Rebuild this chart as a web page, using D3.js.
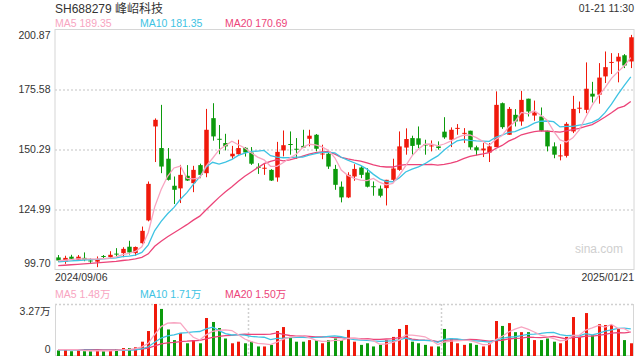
<!DOCTYPE html>
<html><head><meta charset="utf-8">
<script src="https://cdn.jsdelivr.net/npm/d3@7"></script>
<style>
html,body{margin:0;padding:0;background:#fff;}
svg{display:block;font-family:"Liberation Sans",Arial,"Noto Sans CJK SC",sans-serif;}
</style></head><body>
<svg id="c" width="640" height="360"></svg>
<script>
const title = "SH688279 峰岹科技";
const timeLabel = "01-21 11:30";
const dateLabels = ["2024/09/06", "2025/01/21"];
const priceTicks = [99.70, 124.99, 150.29, 175.58, 200.87];
const volMaxLabel = "3.27万";
const maLegend = [["MA5", "189.35"], ["MA10", "181.35"], ["MA20", "170.69"]];
const volLegend = [["MA5", "1.48万"], ["MA10", "1.71万"], ["MA20", "1.50万"]];

const open = [104.8,103.0,105.1,103.8,104.6,103.5,103.0,105.4,104.9,106.4,106.6,109.3,106.6,110.8,120.4,160.0,150.9,146.4,135.0,133.9,139.2,136.1,143.7,140.3,163.5,154.8,153.0,147.4,148.3,151.0,149.0,143.0,142.4,141.7,138.5,149.9,152.6,150.6,151.8,154.8,156.5,148.5,148.5,142.1,134.6,130.1,138.9,142.7,140.6,134.8,133.8,134.0,137.5,141.7,151.1,155.1,155.0,152.4,151.8,151.6,157.8,154.4,159.2,157.1,158.2,151.2,149.9,149.0,151.3,169.8,156.5,164.9,162.1,171.7,164.6,164.2,158.2,151.6,147.5,147.6,157.9,167.6,167.0,173.8,173.4,181.1,187.0,187.4,190.0,187.4];
const high = [105.8,105.5,105.9,105.8,106.9,104.4,105.2,105.8,107.4,108.7,109.1,111.8,109.4,117.8,136.8,163.4,169.1,150.9,138.9,143.8,143.7,143.4,144.3,167.4,169.8,160.6,156.9,151.8,154.4,151.3,151.3,144.5,144.1,142.0,153.5,158.3,157.9,155.1,158.6,158.6,156.8,152.3,148.8,143.8,136.8,140.7,144.1,143.4,142.4,136.8,135.1,137.5,146.4,157.9,159.2,156.1,160.0,154.4,154.1,153.7,163.9,159.6,161.0,159.3,158.2,151.9,153.0,153.0,174.8,170.1,168.2,167.3,175.0,171.7,170.9,168.0,158.2,153.3,152.5,161.8,172.9,170.5,187.0,178.8,186.7,191.6,190.9,190.9,190.5,198.6];
const low = [103.0,102.1,103.8,103.4,103.2,102.0,100.7,104.5,104.2,105.2,104.9,106.0,105.5,110.5,120.0,145.0,140.3,137.2,127.3,127.7,137.0,132.3,138.2,138.6,154.0,148.3,149.9,146.4,148.1,147.3,143.8,140.0,139.6,137.0,136.7,147.4,148.1,146.4,150.9,151.6,149.5,146.2,142.1,133.3,128.0,129.8,137.1,138.2,134.3,130.8,130.1,126.7,136.4,141.3,148.1,148.1,150.9,148.1,149.5,150.2,154.8,151.3,156.5,153.0,150.2,147.8,147.1,145.0,151.3,159.0,156.5,160.0,160.3,164.2,162.4,157.9,149.5,146.6,145.7,146.9,157.2,165.6,165.6,170.1,169.6,178.3,182.1,178.6,184.6,184.6];
const close = [103.5,104.6,104.2,105.1,103.8,103.3,104.2,105.2,105.9,106.2,108.4,106.9,109.2,116.0,135.8,162.8,143.1,137.5,133.3,139.6,137.2,141.7,139.6,158.6,155.8,154.6,151.6,148.5,150.9,149.0,144.3,142.8,142.6,137.2,149.3,152.1,152.5,150.5,151.1,156.1,150.6,148.6,143.1,135.4,130.1,139.6,142.1,139.6,134.6,134.7,130.8,137.5,142.3,151.6,154.7,151.8,152.3,152.2,152.0,150.9,155.4,158.6,159.4,157.3,151.2,149.9,150.7,151.6,169.1,159.7,167.4,162.1,171.2,166.3,165.9,158.2,151.6,148.1,147.8,161.1,167.4,167.9,175.9,172.6,180.6,185.0,187.2,189.4,185.7,197.6];
const ma5 = [103.4,103.6,103.9,104.2,104.2,104.2,104.1,104.3,104.5,105.0,106.0,106.5,107.3,109.3,115.3,126.1,133.4,139.0,142.5,143.3,138.1,137.9,138.3,143.3,146.6,150.1,152.0,153.8,152.3,150.9,148.9,147.1,145.9,143.2,143.2,144.8,146.7,148.3,151.1,152.5,152.2,151.4,149.9,146.8,141.6,139.4,138.1,137.4,137.2,138.1,136.4,135.4,136.0,139.4,143.4,147.6,150.5,152.5,152.6,151.8,152.6,153.8,155.3,156.3,156.4,155.3,153.7,152.1,154.5,156.2,159.7,162.0,165.9,165.3,166.6,164.7,162.6,158.0,154.3,153.4,155.2,158.5,164.0,169.0,172.9,176.4,180.3,183.0,185.6,189.0];
const ma10 = [102.9,103.1,103.3,103.5,103.7,103.9,104.0,104.2,104.4,104.6,105.1,105.3,105.8,106.9,110.1,116.1,120.0,123.2,125.9,129.3,132.1,135.6,138.7,142.9,144.9,144.1,145.0,146.1,147.8,148.8,149.5,149.6,149.9,147.7,147.1,146.8,146.9,147.1,147.1,147.9,148.5,149.1,149.1,148.9,147.0,145.8,144.7,143.6,142.0,139.8,137.9,136.8,136.7,138.3,140.8,142.0,143.0,144.3,146.0,147.6,150.1,152.2,153.9,154.5,154.1,153.9,153.8,153.7,155.4,156.3,157.5,157.8,159.0,159.9,161.4,162.2,162.3,162.0,159.8,160.0,160.0,160.6,161.0,161.7,163.1,165.8,169.4,173.5,177.3,180.9];
const ma20 = [101.3,101.5,101.7,101.9,102.1,102.3,102.5,102.7,102.9,103.1,103.5,103.8,104.2,104.8,106.3,109.5,111.6,113.5,115.2,116.9,118.6,120.5,122.2,124.9,127.5,130.1,132.5,134.6,136.9,139.0,140.8,142.6,144.3,145.3,146.0,145.5,145.9,146.6,147.5,148.3,149.0,149.3,149.5,148.3,147.0,146.3,145.8,145.4,144.6,143.8,143.2,142.9,142.9,143.6,143.9,143.9,143.9,143.9,144.0,143.7,144.0,144.5,145.3,146.4,147.4,147.9,148.4,149.0,150.7,152.0,153.8,155.0,156.5,157.2,157.8,158.1,158.0,157.8,157.6,158.1,158.7,159.2,160.0,160.8,162.3,164.0,165.8,167.7,168.6,170.5];

const volume = [0.35,0.4,0.3,0.35,0.3,0.3,0.4,0.3,0.35,0.4,0.5,0.5,0.55,0.9,1.57,3.27,2.96,1.67,1.0,1.45,0.8,1.0,0.8,2.39,2.14,1.76,1.1,0.8,0.9,0.8,0.9,0.6,0.6,0.7,1.57,1.82,1.2,0.9,0.9,1.0,1.0,0.8,1.0,1.1,1.0,1.64,0.9,0.7,0.8,0.6,0.7,1.0,1.2,1.7,1.95,0.9,0.8,0.7,0.6,0.6,1.7,1.1,0.8,0.7,0.8,0.7,0.6,0.8,2.2,1.89,2.07,1.5,1.5,1.5,1.0,1.0,1.1,0.9,0.8,1.2,2.45,1.2,2.7,1.3,2.0,1.95,1.95,1.7,1.0,0.8];
const volMa5 = [0.4,0.4,0.4,0.4,0.35,0.33,0.33,0.33,0.33,0.35,0.39,0.41,0.46,0.57,0.8,1.36,1.85,2.07,2.09,2.07,1.58,1.18,1.0,1.33,1.55,1.62,1.64,1.6,1.34,1.07,0.9,0.8,0.76,0.72,0.87,1.06,1.18,1.24,1.28,1.16,1.0,0.92,0.94,0.98,0.98,1.11,1.13,1.07,1.05,0.97,0.74,0.76,0.86,1.0,1.31,1.31,1.27,1.21,0.99,0.72,0.88,0.94,0.96,0.98,0.98,0.86,0.72,0.72,1.02,1.23,1.51,1.69,1.83,1.69,1.51,1.31,1.22,1.1,0.96,1.0,1.29,1.31,1.63,1.77,1.93,1.82,1.98,1.74,1.72,1.48];
const volMa10 = [0.38,0.38,0.38,0.38,0.37,0.37,0.36,0.36,0.35,0.35,0.36,0.37,0.39,0.45,0.58,0.86,1.13,1.27,1.33,1.44,1.47,1.52,1.54,1.71,1.81,1.6,1.41,1.32,1.34,1.31,1.24,1.2,1.18,1.03,1.11,1.12,1.16,1.17,1.18,1.16,1.17,1.19,1.23,1.27,1.21,1.11,1.03,1.0,0.99,0.95,0.92,0.94,0.96,1.02,1.12,1.0,0.98,0.98,0.96,0.86,1.05,1.09,1.08,1.01,0.97,0.95,0.92,0.87,0.99,1.11,1.19,1.21,1.28,1.36,1.38,1.42,1.47,1.48,1.34,1.28,1.3,1.27,1.41,1.33,1.42,1.56,1.64,1.73,1.75,1.71];
const volMa20 = [0.4,0.4,0.4,0.4,0.4,0.4,0.4,0.39,0.39,0.39,0.39,0.4,0.41,0.44,0.5,0.63,0.76,0.83,0.86,0.91,0.93,0.96,0.98,1.08,1.17,1.24,1.28,1.3,1.34,1.37,1.36,1.36,1.36,1.37,1.45,1.36,1.29,1.25,1.26,1.24,1.2,1.2,1.2,1.15,1.16,1.11,1.1,1.09,1.09,1.05,1.04,1.07,1.09,1.15,1.17,1.06,1.01,0.99,0.98,0.91,0.98,1.01,1.03,1.02,1.05,1.03,0.98,0.93,0.97,0.99,1.07,1.11,1.13,1.19,1.17,1.16,1.19,1.23,1.15,1.07,1.17,1.18,1.25,1.25,1.3,1.36,1.44,1.47,1.45,1.5];

const RED = "#f0190b", GREEN = "#0c9a0c";
const C_MA5 = "#f8a5c1", C_MA10 = "#3ec3e3", C_MA20 = "#ec4479";
const TXT = "#333";

const svg = d3.select("#c");
const L = 55, R = 634, T = 29.5, B = 269.5, VT = 304, VB = 356;
const idx = d3.range(close.length);
const x = d3.scaleBand().domain(idx).range([L, R]).paddingInner(0.3).paddingOuter(0.15);
const cx = i => x(i) + x.bandwidth() / 2;
const y = d3.scaleLinear().domain([priceTicks[0], priceTicks[priceTicks.length - 1]]).range([B, T]);
const yv = d3.scaleLinear().domain([0, 3.27]).range([VB, VT]);

// header
svg.append("text").attr("x", 55).attr("y", 13).attr("font-size", 12).attr("fill", TXT)
  .attr("font-family", "'Liberation Sans','Noto Sans CJK SC',sans-serif").text(title);
svg.append("text").attr("x", 634).attr("y", 12).attr("font-size", 10.5).attr("fill", TXT).attr("text-anchor", "end").text(timeLabel);
const maColors = [C_MA5, C_MA10, C_MA20];
const legX = [55, 140, 225];
maLegend.forEach((m, k) => svg.append("text").attr("x", legX[k]).attr("y", 27).attr("font-size", 10.5)
  .attr("fill", maColors[k]).text(m[0] + " " + m[1]));

// grid (dotted) via axis
const grid = svg.append("g").attr("transform", `translate(${L},0)`)
  .call(d3.axisLeft(y).tickValues(priceTicks.slice(1, -1)).tickSize(-(R - L)).tickFormat(""));
grid.select(".domain").remove();
grid.selectAll("line").attr("stroke", "#d8d8d8").attr("stroke-dasharray", "2,2").attr("stroke-width", 1.5);

// frame
svg.append("rect").attr("x", L).attr("y", T).attr("width", R - L).attr("height", B - T)
  .attr("fill", "none").attr("stroke", "#d6d6d6").attr("stroke-width", 1);

// y axis labels
const ya = svg.append("g").attr("transform", `translate(${L - 4.5},0)`)
  .call(d3.axisLeft(y).tickValues(priceTicks).tickSize(0).tickPadding(0).tickFormat(d3.format(".2f")));
ya.select(".domain").remove();
ya.selectAll("text").attr("font-size", 10.5).attr("fill", TXT)
  .attr("dy", d => d === priceTicks[priceTicks.length - 1] ? "0.85em" : d === priceTicks[0] ? "-0.25em" : "0.32em");

// watermark
svg.append("text").attr("x", 623).attr("y", 253).attr("text-anchor", "end").attr("font-size", 12)
  .attr("fill", "#cfcfcf").text("sina.com");

// candles
const cg = svg.append("g");
idx.forEach(i => {
  const up = close[i] >= open[i];
  const col = up ? RED : GREEN;
  cg.append("line").attr("x1", Math.round(cx(i)) + 0.5).attr("x2", Math.round(cx(i)) + 0.5)
    .attr("y1", y(high[i])).attr("y2", y(low[i])).attr("stroke", col).attr("stroke-width", 1);
  const top = y(Math.max(open[i], close[i])), bot = y(Math.min(open[i], close[i]));
  cg.append("rect").attr("x", Math.round(cx(i)) + 0.5 - x.bandwidth() / 2).attr("y", top)
    .attr("width", x.bandwidth()).attr("height", Math.max(1, bot - top)).attr("fill", col);
});

// MA lines
const line = arr => d3.line().x((d, i) => cx(i)).y(d => y(d))(arr);
[[ma20, C_MA20], [ma10, C_MA10], [ma5, C_MA5]].forEach(([a, c]) =>
  svg.append("path").attr("d", line(a)).attr("fill", "none").attr("stroke", c).attr("stroke-width", 1.3));

// date labels
svg.append("text").attr("x", L).attr("y", 281).attr("font-size", 10.5).attr("fill", TXT).text(dateLabels[0]);
svg.append("text").attr("x", R).attr("y", 281).attr("font-size", 10.5).attr("fill", TXT).attr("text-anchor", "end").text(dateLabels[1]);

// volume legend
volLegend.forEach((m, k) => svg.append("text").attr("x", legX[k]).attr("y", 298).attr("font-size", 10.5)
  .attr("fill", maColors[k]).text(m[0] + " " + m[1]));

// volume panel frame
svg.append("line").attr("x1", L).attr("x2", R).attr("y1", VT + 0.5).attr("y2", VT + 0.5)
  .attr("stroke", "#d0d0d0").attr("stroke-dasharray", "2,2").attr("stroke-width", 1.5);
[L + (R - L) / 3, L + 2 * (R - L) / 3].forEach(xx =>
  svg.append("line").attr("x1", Math.round(xx) + 0.5).attr("x2", Math.round(xx) + 0.5).attr("y1", VT).attr("y2", VB)
    .attr("stroke", "#d0d0d0").attr("stroke-dasharray", "2,2").attr("stroke-width", 1.5));
svg.append("line").attr("x1", L + 0.5).attr("x2", L + 0.5).attr("y1", VT).attr("y2", VB).attr("stroke", "#d6d6d6");
svg.append("line").attr("x1", R - 0.5).attr("x2", R - 0.5).attr("y1", VT).attr("y2", VB).attr("stroke", "#d6d6d6");
svg.append("line").attr("x1", L).attr("x2", R).attr("y1", VB - 0.5).attr("y2", VB - 0.5).attr("stroke", "#d6d6d6");

svg.append("text").attr("x", L - 4.5).attr("y", VT + 11).attr("font-size", 10.5).attr("fill", TXT).attr("text-anchor", "end").text(volMaxLabel);
svg.append("text").attr("x", L - 4.5).attr("y", VB - 3).attr("font-size", 10.5).attr("fill", TXT).attr("text-anchor", "end").text("0");

// volume bars
const vw = 3;
idx.forEach(i => {
  const up = close[i] >= open[i];
  svg.append("rect").attr("x", Math.round(cx(i)) + 0.5 - vw / 2).attr("y", yv(volume[i]))
    .attr("width", vw).attr("height", VB - yv(volume[i])).attr("fill", up ? RED : GREEN);
});
const vline = arr => d3.line().x((d, i) => cx(i)).y(d => yv(d))(arr);
[[volMa20, C_MA20], [volMa10, C_MA10], [volMa5, C_MA5]].forEach(([a, c]) =>
  svg.append("path").attr("d", vline(a)).attr("fill", "none").attr("stroke", c).attr("stroke-width", 1.3));
</script>
</body></html>
